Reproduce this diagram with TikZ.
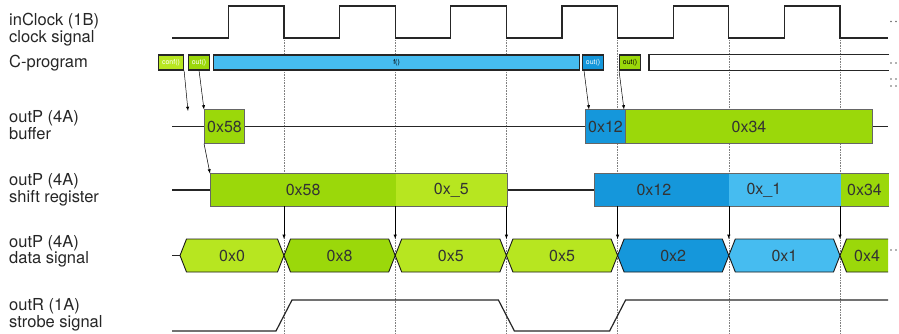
\documentclass[tikz,border=0pt]{standalone}
\usepackage{fontspec}
\setmainfont{TeX Gyre Heros}
\usetikzlibrary{arrows,positioning,calc}
\definecolor{gdark}{RGB}{155,216,10}
\definecolor{glight}{RGB}{183,230,32}
\definecolor{bdark}{RGB}{21,151,219}
\definecolor{blight}{RGB}{70,188,240}
\tikzset{
  sig/.style={line width=1.2pt,black!85},
  grid/.style={densely dotted,black!50,line width=0.6pt},
  link/.style={->,>=latex,line width=0.5pt},
  lbl/.style={anchor=west,align=left,inner sep=0pt,text=black!85,
    font=\fontsize{16.5}{14.8}\selectfont},
  prog/.style={draw=black!85,line width=1.1pt,inner sep=0pt,minimum height=15pt,
    anchor=west,font=\fontsize{7}{7}\selectfont},
  progline/.style={black!85,line width=1.1pt},
  reg/.style={draw=black!60,line width=1pt,inner sep=0pt,minimum height=33pt,
    anchor=west,text=black!80,font=\fontsize{16}{16}\selectfont},
  sreg/.style={reg,draw=none,minimum height=32pt},
  regline/.style={black!60,line width=1pt},
  hexline/.style={black!90,line width=0.9pt},
  hexlbl/.style={text=black!80,font=\fontsize{16}{16}\selectfont},
}
\begin{document}
\begin{tikzpicture}[x=1pt,y=-1pt]
\useasboundingbox (0,0) rectangle (899,334);
% falling clock edges
\foreach \x in {284,395.2,506.4,617.6,728.8,840} \draw[grid] (\x,40) -- (\x,334);
\node[lbl] (lclk) at (9,29.5) {inClock (1B)\\clock signal};
\node[lbl] (lprg) at (9,63) {C-program};
\node[lbl] (lbuf) at (9,125) {outP (4A)\\buffer};
\node[lbl] (lsr) at (9,189.6) {outP (4A)\\shift register};
\node[lbl] (ldat) at (9,251.5) {outP (4A)\\data signal};
\node[lbl] (lstb) at (9,315) {outR (1A)\\strobe signal};
% clock
\draw[sig] (172,38) \foreach \x in {228.4,339.6,450.8,562,673.2,784.4}
  { -- (\x,38) -- (\x,6) -- (\x+55.6,6) -- (\x+55.6,38) } -- (888,38);
% C-program
\node[prog,fill=glight,text=white,minimum width=25pt] (conf) at (158,62.5) {conf()};
\node[prog,fill=gdark,text=white,minimum width=21pt] (out1) at (188,62.5) {out()};
\node[prog,fill=blight,minimum width=366pt] (fcall) at (213,62.5) {f()};
\node[prog,fill=bdark,text=white,minimum width=21pt] (out2) at (582,62.5) {out()};
\node[prog,fill=gdark,minimum width=21pt] (out3) at (619,62.5) {out()};
\node[prog,draw=none,minimum width=239pt] (idle) at (649,62.5) {};
\draw[progline] (idle.north east) -- (idle.north west) -- (idle.south west) -- (idle.south east);
% buffer
\draw[sig] (172,126.5) -- (888,126.5);
\node[reg,fill=gdark,minimum width=40pt] (b58) at (204,126.5) {0x58};
\node[reg,fill=bdark,minimum width=40pt] (b12) at (585,126.5) {0x12};
\node[reg,fill=gdark,minimum width=247pt] (b34) at (625,126.5) {0x34};
% shift register
\draw[sig] (172,190) -- (888,190);
\node[sreg,fill=gdark,minimum width=185.2pt] (s58) at (210,190) {0x58};
\node[sreg,fill=glight,minimum width=111.2pt] (s5) at (395.2,190) {0x\_5};
\node[sreg,fill=bdark,minimum width=134.8pt,
  label={[hexlbl,xshift=-8pt]center:0x12}] (s12) at (594,190) {};
\node[sreg,fill=blight,minimum width=111.2pt,
  label={[hexlbl,xshift=-21pt]center:0x\_1}] (s1) at (728.8,190) {};
\node[sreg,fill=gdark,minimum width=48pt] (s34) at (840,190) {0x34};
\draw[regline] (s58.north west) rectangle (s5.south east);
\draw[regline] (s34.north east) -- (s12.north west) -- (s12.south west) -- (s34.south east);
% data signal
\draw[sig] (172,255.5) -- (180,255.5);
\foreach \a/\b/\c/\t [count=\i] in {180/284/glight/0x0, 284/395.2/gdark/0x8,
    395.2/506.4/glight/0x5, 506.4/617.6/glight/0x5, 617.6/728.8/bdark/0x2, 728.8/840/blight/0x1} {
  \draw[hexline,fill=\c] (\a,255.5) -- (\a+6.5,239) -- (\b-6.5,239) -- (\b,255.5)
    -- (\b-6.5,272) -- (\a+6.5,272) -- cycle;
  \node[hexlbl] (d\i) at ({(\a+\b)/2},255.5) {\t};
  \coordinate (c\i) at (\b,239);
}
\fill[gdark] (840,255.5) -- (846.5,239) -- (888,239) -- (888,272) -- (846.5,272) -- cycle;
\draw[hexline] (888,239) -- (846.5,239) -- (840,255.5) -- (846.5,272) -- (888,272);
\node[hexlbl] (d7) at (867,255.5) {0x4};
% strobe
\draw[sig] (172,331) -- (276,331) -- (292,300) -- (498.4,300) -- (514.4,331)
  -- (609.6,331) -- (625.6,300) -- (888,300);
% links
\coordinate (cfend) at (188,111);
\coordinate (srb) at (0,206);
\draw[link] (conf.south east) -- (cfend);
\draw[link] (out1.south) -- (b58.north west);
\draw[link] (b58.south west) -- (s58.north west);
\draw[link] ([xshift=2pt]out2.south west) -- ([xshift=4pt]b12.north west);
\draw[link] (out3.south west) -- ([xshift=-1pt]b34.north west);
\foreach \i in {1,...,6} \draw[link] (c\i |- srb) -- (c\i);
% continuation dots
\foreach \y in {21.5,63,79,86,250} \fill[black!60] (891,\y) circle (0.8pt) (896,\y) circle (0.8pt);
\end{tikzpicture}
\end{document}
